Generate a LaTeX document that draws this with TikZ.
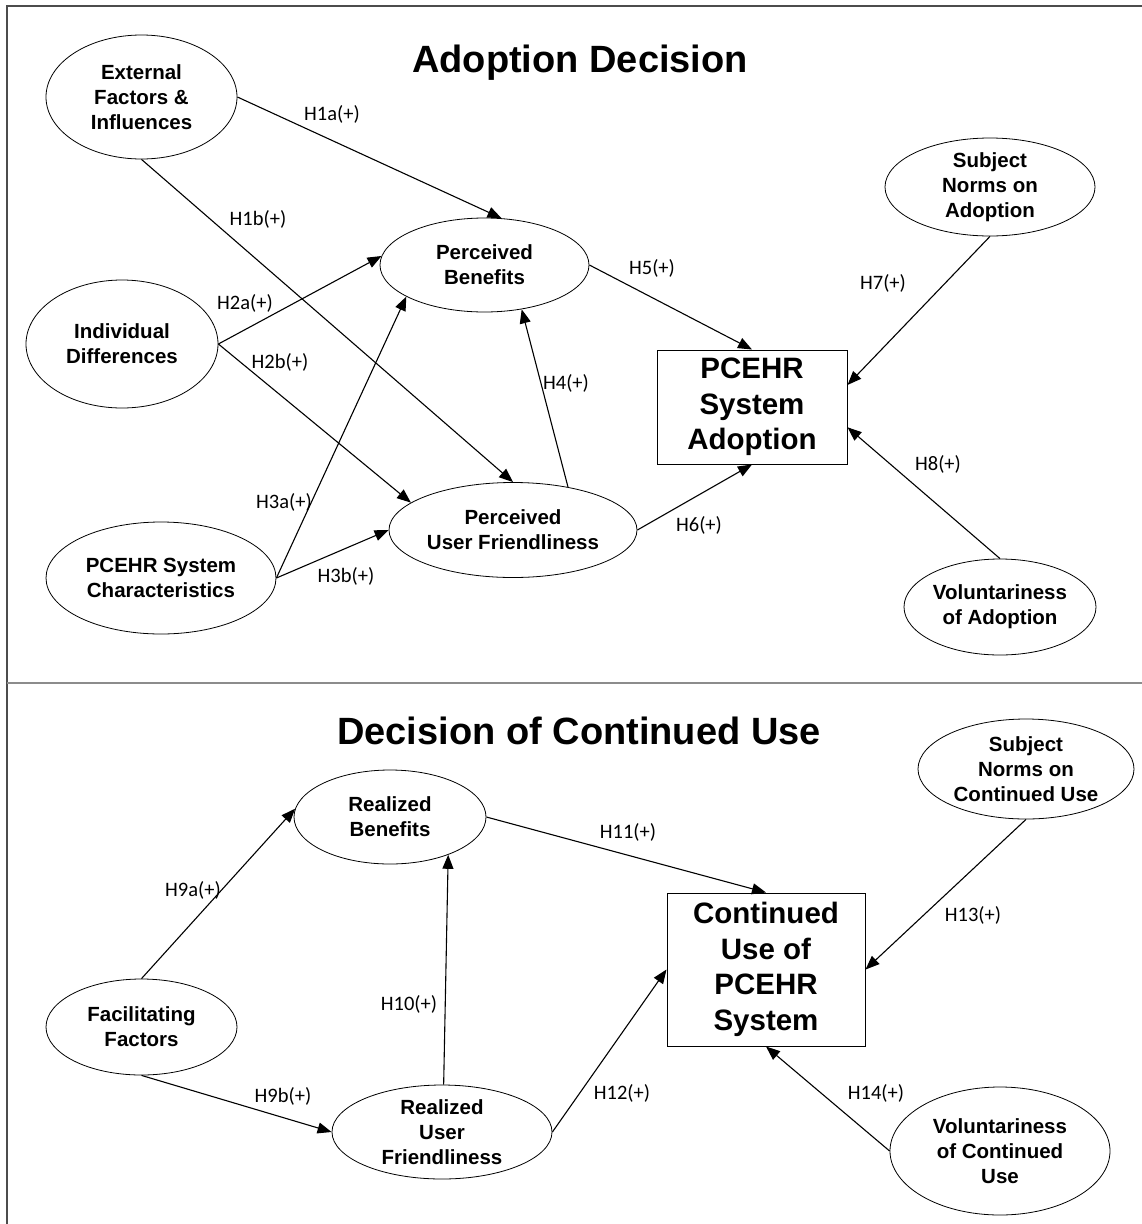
\documentclass[tikz,border=0pt]{standalone}
\usepackage{fontspec}
\setmainfont{Liberation Sans}
\newfontfamily\lblfont{Carlito}
\usetikzlibrary{shapes.geometric,arrows.meta}
\begin{document}
\begin{tikzpicture}[x=1pt,y=-1pt,
  oval/.style={ellipse,draw,line width=0.8pt,inner sep=0pt,align=center,
     font={\fontsize{20.5}{25}\selectfont\bfseries}},
  sz/.style 2 args={minimum width=#1pt,minimum height=#2pt},
  bigbox/.style={rectangle,draw,line width=1pt,inner sep=0pt,align=center,
     font={\fontsize{29.5}{35.5}\selectfont\bfseries}},
  ttl/.style={font={\fontsize{38}{44}\selectfont\bfseries}},
  lbl/.style={font={\lblfont\fontsize{20.5}{24}\selectfont},inner sep=0pt},
  arr/.style={line width=1.1pt,-{Triangle[length=14pt,width=11pt]}},
  frame/.style={line width=2pt,color=black!70}
]
\useasboundingbox (0,0) rectangle (1142,1224);
\fill[white] (0,0) rectangle (1142,1224);
% frame
\draw[frame] (7,1224) -- (7,6) -- (1142,6);
\draw[line width=2.5pt,color=black!45] (7,683) -- (1142,683);

% titles
\node[ttl] (t1) at (580,63) {Adoption Decision};
\node[ttl] (t2) at (579,731) {Decision of Continued Use};

% top nodes
\node[oval,sz={191}{124}] (ext) at (141.5,97) {External\\Factors \&\\Influences};
\node[oval,sz={192}{128}] (ind) at (122,344) {Individual\\Differences};
\node[oval,sz={230}{112}] (psc) at (161,578) {PCEHR System\\Characteristics};
\node[oval,sz={209}{94}] (pb) at (484.5,265) {Perceived\\Benefits};
\node[oval,sz={248}{95}] (puf) at (513,530) {Perceived\\User Friendliness};
\node[bigbox,minimum width=190pt,minimum height=114pt] (adopt) at (752,407) {PCEHR\\System\\Adoption};
\node[oval,sz={210}{98}] (sna) at (990,187) {Subject\\Norms on\\Adoption};
\node[oval,sz={192}{96}] (va) at (1000,607) {Voluntariness\\of Adoption};

% bottom nodes
\node[oval,sz={192}{94}] (rb) at (390,817) {Realized\\Benefits};
\node[oval,sz={216}{100}] (sncu) at (1026,769) {Subject\\Norms on\\Continued Use};
\node[bigbox,minimum width=198pt,minimum height=153pt] (cont) at (766,969.5) {Continued\\Use of\\PCEHR\\System};
\node[oval,sz={191}{96}] (ff) at (141.5,1027) {Facilitating\\Factors};
\node[oval,sz={220}{94}] (ruf) at (442,1132) {Realized\\User\\Friendliness};
\node[oval,sz={220}{128}] (vcu) at (1000,1151) {Voluntariness\\of Continued\\Use};

% top arrows
\draw[arr] (ext.east) -- (pb.70);
\draw[arr] (ext.south) -- (puf.north);
\draw[arr] (ind.east) -- (pb.175);
\draw[arr] (ind.east) -- (puf.165);
\draw[arr] (psc.east) -- (pb.202);
\draw[arr] (psc.east) -- (puf.west);
\draw[arr] (puf.38) -- (pb.-50);
\draw[arr] (pb.east) -- (adopt.north);
\draw[arr] (puf.east) -- (adopt.south);
\draw[arr] (sna.south) -- (adopt.13);
\draw[arr] (va.north) -- (adopt.-12.5);

% bottom arrows
\draw[arr] (ff.north) -- (rb.175);
\draw[arr] (ff.south) -- (ruf.west);
\draw[arr] (ruf.88) -- (rb.-33);
\draw[arr] (rb.east) -- (cont.north);
\draw[arr] (ruf.east) -- (cont.west);
\draw[arr] (sncu.south) -- (cont.east);
\draw[arr] (vcu.west) -- (cont.south);

% labels
\node[lbl] (l1a) at (332,114) {H1a(+)};
\node[lbl] (l1b) at (258,219) {H1b(+)};
\node[lbl] (l2a) at (245,303) {H2a(+)};
\node[lbl] (l2b) at (280,362) {H2b(+)};
\node[lbl] (l3a) at (284,502) {H3a(+)};
\node[lbl] (l3b) at (346,576) {H3b(+)};
\node[lbl] (l4) at (566,383) {H4(+)};
\node[lbl] (l5) at (652,268) {H5(+)};
\node[lbl] (l6) at (699,525) {H6(+)};
\node[lbl] (l7) at (883,283) {H7(+)};
\node[lbl] (l8) at (938,464) {H8(+)};
\node[lbl] (l9a) at (193,890) {H9a(+)};
\node[lbl] (l9b) at (283,1096) {H9b(+)};
\node[lbl] (l10) at (409,1004) {H10(+)};
\node[lbl] (l11) at (628,832) {H11(+)};
\node[lbl] (l12) at (622,1093) {H12(+)};
\node[lbl] (l13) at (973,915) {H13(+)};
\node[lbl] (l14) at (876,1093) {H14(+)};
\end{tikzpicture}
\end{document}
